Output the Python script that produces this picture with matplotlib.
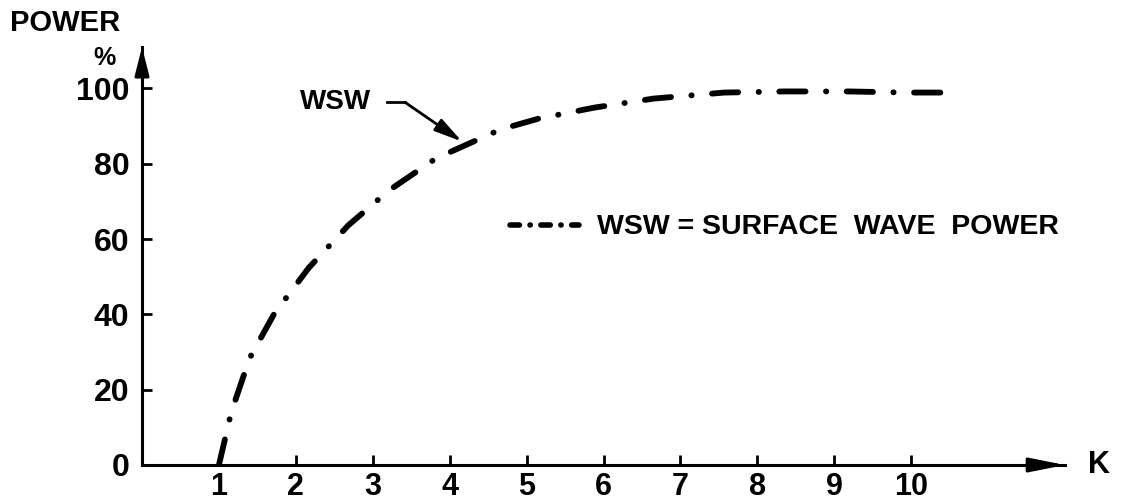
import matplotlib.pyplot as plt

# WSW curve
k = [1.0, 1.16, 1.40, 1.72, 2.17, 2.68, 3.21, 3.82, 4.66, 5.16, 5.88, 6.65, 7.57, 8.36, 9.18, 9.93, 10.44]
power = [0, 14, 28.4, 40.2, 52.4, 63.6, 72.9, 81.4, 89.1, 92.0, 94.9, 97.3, 98.9, 99.2, 99.2, 98.9, 98.9]

x_ticks = [1, 2, 3, 4, 5, 6, 7, 8, 9, 10]
y_ticks = [0, 20, 40, 60, 80, 100]

font = ['Liberation Sans', 'DejaVu Sans']

fig = plt.figure(figsize=(11.41, 5.03), dpi=100)
ax = fig.add_axes([142 / 1141, 38 / 503, 923 / 1141, 418 / 503])
ax.set_xlim(0, 12)
ax.set_ylim(0, 111)

# the curve
ax.plot(k, power, color='black', lw=4.2, ls=(0, (4.5, 3.5, 0.05, 3.5)),
        dash_capstyle='round', solid_capstyle='round')

# axes: only left and bottom, with arrow heads
for s in ['top', 'right']:
    ax.spines[s].set_visible(False)
for s in ['left', 'bottom']:
    ax.spines[s].set_linewidth(2.2)
ax.annotate('', xy=(12, 0), xytext=(11.5, 0), annotation_clip=False,
            arrowprops=dict(arrowstyle='-|>,head_length=1.2,head_width=0.24', color='black',
                            lw=2.2, mutation_scale=18, shrinkA=0, shrinkB=0))
ax.annotate('', xy=(0, 111), xytext=(0, 105), annotation_clip=False,
            arrowprops=dict(arrowstyle='-|>,head_length=0.95,head_width=0.24', color='black',
                            lw=2.2, mutation_scale=18, shrinkA=0, shrinkB=0))

ax.set_xticks(x_ticks)
ax.set_yticks(y_ticks)
ax.set_xticklabels([str(v) for v in x_ticks], family=font, fontweight='bold', fontsize=22)
ax.set_yticklabels([str(v) for v in y_ticks], family=font, fontweight='bold', fontsize=23)
ax.tick_params(axis='x', direction='in', length=7, width=2, pad=5)
ax.tick_params(axis='y', direction='in', length=7, width=2, pad=9)

# axis titles
ax.text(12.3, 0, 'K', family=font, fontweight='bold', fontsize=22, ha='left', va='center')
fig.text(65 / 1141, 1 - 23 / 503, 'POWER', family=font, fontweight='bold', fontsize=21,
         ha='center', va='center')
fig.text(104 / 1141, 1 - 58 / 503, '%', family=font, fontweight='bold', fontsize=18,
         ha='center', va='center')

# label with pointer arrow
ax.text(2.51, 96.3, 'WSW', family=font, fontweight='bold', fontsize=20, ha='center', va='center')
ax.plot([3.19, 3.42], [96.3, 96.3], color='black', lw=2)
ax.annotate('', xy=(4.16, 85.9), xytext=(3.42, 96.3),
            arrowprops=dict(arrowstyle='-|>,head_length=1.2,head_width=0.3', color='black',
                            lw=2, mutation_scale=14, shrinkA=0, shrinkB=0))

# legend
ax.plot([4.79, 5.68], [63.8, 63.8], color='black', lw=4, ls=(0, (1.7, 1.9, 0.05, 1.9)),
        dash_capstyle='round', solid_capstyle='round')
ax.text(5.92, 63.3, 'WSW = SURFACE  WAVE  POWER', family=font, fontweight='bold',
        fontsize=20.5, ha='left', va='center')

fig.savefig('out.png', dpi=100)
